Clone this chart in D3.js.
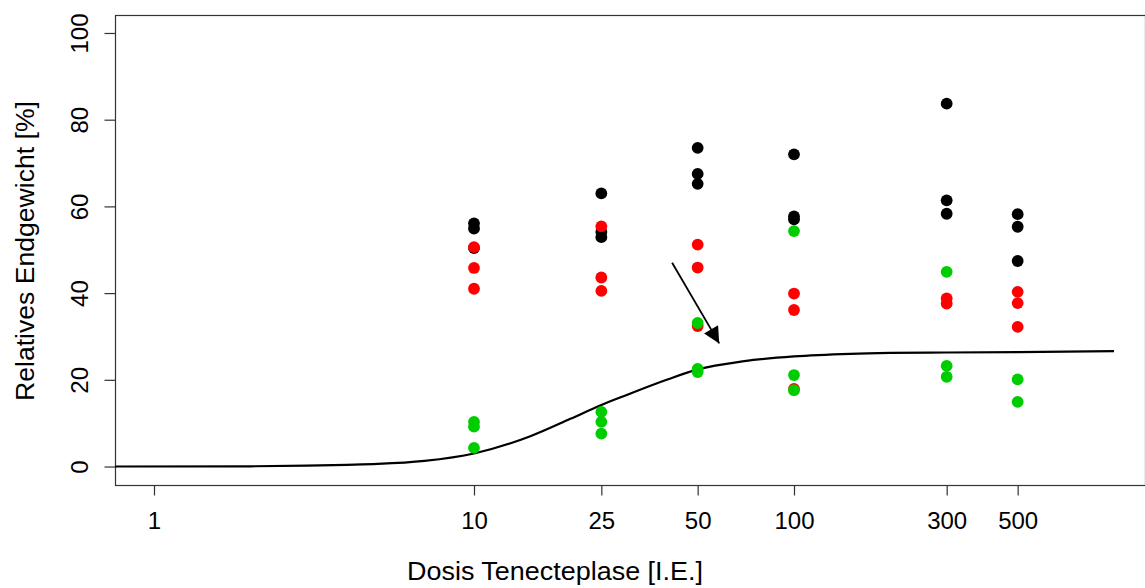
<!DOCTYPE html>
<html>
<head>
<meta charset="utf-8">
<script src="https://cdn.jsdelivr.net/npm/d3@7"></script>
<style>
  html, body { margin: 0; padding: 0; background: #fff; }
  svg { display: block; font-family: "Liberation Sans", Arial, sans-serif; }
</style>
</head>
<body>
<svg id="chart" width="1145" height="588"></svg>
<script>
// ---- data ----
const doseLevels = [10, 25, 50, 100, 300, 500];
const xTickValues = [1, 10, 25, 50, 100, 300, 500];
const yTickValues = [0, 20, 40, 60, 80, 100];
// values per dose (same order as doseLevels)
const blackValues = [
  [56.1, 54.9, 50.4],
  [63.0, 54.1, 52.9],
  [73.5, 67.5, 65.2],
  [72.0, 57.7, 57.0],
  [83.7, 61.4, 58.3],
  [58.2, 55.3, 47.4]
];
const redValues = [
  [50.6, 45.8, 41.0],
  [55.4, 43.6, 40.5],
  [51.2, 45.9, 32.4],
  [39.9, 36.1, 17.9],
  [38.8, 37.6],
  [40.3, 37.7, 32.2]
];
const greenValues = [
  [10.3, 9.2, 4.3],
  [12.6, 10.3, 7.6],
  [33.1, 22.5, 21.8],
  [54.3, 21.1, 17.6],
  [44.9, 23.2, 20.7],
  [20.1, 14.9]
];
// fitted curve (dose, value)
const curveDose  = [0.75, 2, 3, 4, 5, 7, 10, 15, 20, 25, 30, 40, 50, 70, 100, 150, 200, 300, 500, 1000];
const curveValue = [0, 0.05, 0.2, 0.4, 0.6, 1.3, 3.0, 7.0, 11.0, 14.2, 16.5, 20.0, 22.4, 24.3, 25.4, 26.0, 26.2, 26.3, 26.4, 26.6];
// arrow (dose, value) start and tip
const arrowDose  = [41.6, 58.4];
const arrowValue = [47.0, 28.4];

const seriesColors = { black: "#000000", red: "#FF0000", green: "#00CD00" };

// ---- layout ----
const svg = d3.select("#chart");
const plot = { left: 115, right: 1145, top: 15, bottom: 485 };

const x = d3.scaleLog()
  .domain([Math.pow(10, (plot.left - 154) / 320), Math.pow(10, (plot.right - 154) / 320)])
  .range([plot.left, plot.right]);
const y = d3.scaleLinear()
  .domain([-(plot.bottom - 466.5) / 4.34, 100 + (33 - plot.top) / 4.34])
  .range([plot.bottom, plot.top]);

// box
svg.append("rect")
  .attr("x", plot.left + 0.5).attr("y", plot.top + 0.5)
  .attr("width", plot.right - plot.left).attr("height", plot.bottom - plot.top)
  .attr("fill", "none").attr("stroke", "#333").attr("stroke-width", 1.2);

// x axis
const xAxis = d3.axisBottom(x).tickValues(xTickValues).tickFormat(d3.format("d"))
  .tickSizeOuter(0).tickSize(10);
const gx = svg.append("g").attr("transform", `translate(0,${plot.bottom + 0.5})`).call(xAxis);
gx.select(".domain").remove();
gx.selectAll(".tick line").attr("stroke", "#333").attr("stroke-width", 1.2);
gx.selectAll(".tick text").attr("font-size", 24).attr("fill", "#000")
  .attr("font-family", "Liberation Sans, Arial, sans-serif")
  .attr("y", 43).attr("dy", null);

// y axis
const yAxis = d3.axisLeft(y).tickValues(yTickValues).tickSize(11).tickSizeOuter(0);
const gy = svg.append("g").attr("transform", `translate(${plot.left + 0.5},0)`).call(yAxis);
gy.select(".domain").remove();
gy.selectAll(".tick line").attr("stroke", "#333").attr("stroke-width", 1.2);
gy.selectAll(".tick text")
  .attr("font-size", 24).attr("fill", "#000")
  .attr("font-family", "Liberation Sans, Arial, sans-serif")
  .attr("x", 0).attr("y", 0).attr("dy", null)
  .attr("text-anchor", "middle")
  .attr("transform", "translate(-28,0) rotate(-90)");

// axis titles
svg.append("text")
  .attr("x", 555).attr("y", 580)
  .attr("text-anchor", "middle").attr("font-size", 25).attr("fill", "#000")
  .attr("textLength", 296).attr("lengthAdjust", "spacingAndGlyphs")
  .text("Dosis Tenecteplase [I.E.]");
svg.append("text")
  .attr("transform", `translate(34,251) rotate(-90)`)
  .attr("text-anchor", "middle").attr("font-size", 25).attr("fill", "#000")
  .attr("textLength", 300).attr("lengthAdjust", "spacingAndGlyphs")
  .text("Relatives Endgewicht [%]");

// clip
svg.append("clipPath").attr("id", "clip").append("rect")
  .attr("x", plot.left).attr("y", plot.top)
  .attr("width", plot.right - plot.left).attr("height", plot.bottom - plot.top);
const g = svg.append("g").attr("clip-path", "url(#clip)");

// curve
const curveData = curveDose.map((d, i) => [d, curveValue[i]]);
g.append("path")
  .datum(curveData)
  .attr("fill", "none").attr("stroke", "#000").attr("stroke-width", 2.2)
  .attr("d", d3.line().x(d => x(d[0])).y(d => y(d[1])).curve(d3.curveMonotoneX));

// points
function flatten(vals) {
  const out = [];
  vals.forEach((arr, i) => arr.forEach(v => out.push({ dose: doseLevels[i], value: v })));
  return out;
}
[["black", blackValues], ["red", redValues], ["green", greenValues]].forEach(([name, vals]) => {
  g.append("g").selectAll("circle")
    .data(flatten(vals))
    .join("circle")
    .attr("cx", d => x(d.dose))
    .attr("cy", d => y(d.value))
    .attr("r", 5.9)
    .attr("fill", seriesColors[name]);
});

// arrow
const defs = svg.append("defs");
defs.append("marker")
  .attr("id", "arrowhead")
  .attr("viewBox", "0 0 10 10")
  .attr("refX", 10).attr("refY", 5)
  .attr("markerWidth", 10).attr("markerHeight", 9)
  .attr("markerUnits", "strokeWidth")
  .attr("orient", "auto")
  .append("path").attr("d", "M0,0 L10,5 L0,10 Z").attr("fill", "#000");
svg.append("line")
  .attr("x1", x(arrowDose[0])).attr("y1", y(arrowValue[0]))
  .attr("x2", x(arrowDose[1])).attr("y2", y(arrowValue[1]))
  .attr("stroke", "#000").attr("stroke-width", 1.8)
  .attr("marker-end", "url(#arrowhead)");
</script>
</body>
</html>
